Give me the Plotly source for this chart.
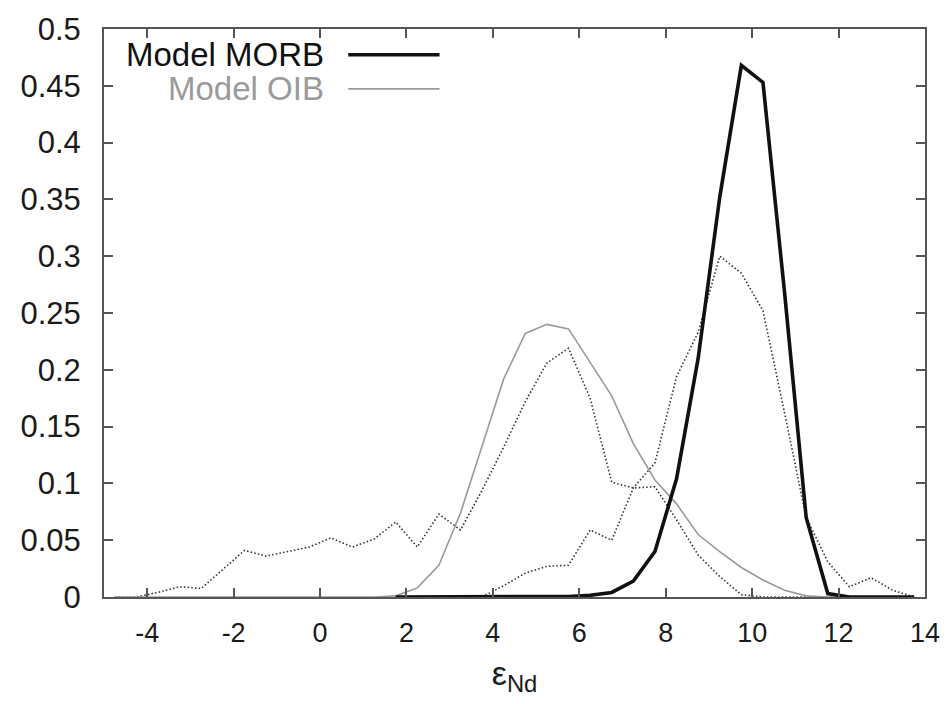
import plotly.graph_objects as go

# bin centres
x_bins = [-4.75 + 0.5 * k for k in range(38)]

# Model MORB (thick black); drawn from 1.75 upward
morb = [None, None, None, None, None, None, None, None, None, None,
        None, None, None, 0, 0, 0, 0, 0, 0, 0,
        0, 0.0005, 0.0015, 0.004, 0.014, 0.040, 0.104, 0.210, 0.352, 0.468,
        0.453, 0.268, 0.070, 0.003, 0, 0, 0, 0]

# Model OIB (grey)
oib = [0, 0, 0, 0, 0, 0, 0, 0, 0, 0,
       0, 0, 0, 0.001, 0.008, 0.028, 0.074, 0.133, 0.192, 0.232,
       0.240, 0.236, 0.207, 0.177, 0.135, 0.103, 0.082, 0.055, 0.040, 0.026,
       0.015, 0.006, 0.001, 0, 0, 0, 0, 0]

# Observed OIB (dotted)
obs_oib = [0, 0, 0.004, 0.009, 0.0075, 0.024, 0.041, 0.036, 0.040, 0.044,
           0.052, 0.044, 0.051, 0.066, 0.044, 0.073, 0.059, 0.094, 0.132, 0.172,
           0.206, 0.219, 0.175, 0.101, 0.096, 0.097, 0.068, 0.037, 0.018, 0.002,
           0, 0, 0, 0, 0, 0, 0, 0]

# Observed MORB (dotted)
obs_morb = [None, None, None, None, None, None, None, None, None, None,
            None, None, None, None, None, None, None, 0, 0.010, 0.021,
            0.027, 0.028, 0.059, 0.050, 0.096, 0.118, 0.194, 0.233, 0.300, 0.285,
            0.252, 0.162, 0.070, 0.031, 0.009, 0.017, 0.006, 0]

x_tickvals = [-4, -2, 0, 2, 4, 6, 8, 10, 12, 14]
x_ticktext = ["-4", "-2", "0", "2", "4", "6", "8", "10", "12", "14"]
y_tickvals = [0, 0.05, 0.1, 0.15, 0.2, 0.25, 0.3, 0.35, 0.4, 0.45, 0.5]
y_ticktext = ["0", "0.05", "0.1", "0.15", "0.2", "0.25", "0.3", "0.35", "0.4", "0.45", "0.5"]

FONT = "Liberation Sans, Arial, Helvetica, sans-serif"
DOT = "#333333"

fig = go.Figure()
fig.add_trace(go.Scatter(x=x_bins, y=obs_oib, mode="lines",
                         line=dict(color=DOT, width=1.6, dash="1.5px,2.2px"),
                         showlegend=False))
fig.add_trace(go.Scatter(x=x_bins, y=obs_morb, mode="lines",
                         line=dict(color=DOT, width=1.6, dash="1.5px,2.2px"),
                         showlegend=False))
fig.add_trace(go.Scatter(x=x_bins, y=oib, mode="lines",
                         line=dict(color="#9a9a9a", width=1.6),
                         showlegend=False))
fig.add_trace(go.Scatter(x=x_bins, y=morb, mode="lines",
                         line=dict(color="#111111", width=3.6),
                         showlegend=False))

axis_common = dict(
    showline=True, linecolor="#555555", linewidth=2, mirror="ticks",
    ticks="inside", ticklen=9, tickwidth=1.5, tickcolor="#555555",
    showgrid=False, zeroline=False,
)

fig.update_xaxes(range=[-5, 14], tickvals=x_tickvals, ticktext=x_ticktext,
                 ticklabelstandoff=11,
                 tickfont=dict(family=FONT, size=27, color="#1a1a1a"),
                 title=dict(text="ε<sub>Nd</sub>", font=dict(family=FONT, size=34, color="#1a1a1a"),
                            standoff=14),
                 **axis_common)
fig.update_yaxes(range=[0, 0.5], tickvals=y_tickvals, ticktext=y_ticktext,
                 ticklabelstandoff=15,
                 tickfont=dict(family=FONT, size=31, color="#1a1a1a"),
                 **axis_common)

# manual legend (gnuplot style: text right-aligned, sample to the right)
legend_items = [("Model MORB", "#111111", 3.6, 0.9547), ("Model OIB", "#9a9a9a", 1.6, 0.8946)]
for label, col, w, yy in legend_items:
    fig.add_annotation(xref="paper", yref="paper", x=0.271, y=yy, text=label,
                       showarrow=False, xanchor="right", yanchor="middle",
                       font=dict(family=FONT, size=33, color=col))
    fig.add_shape(type="line", xref="paper", yref="paper", x0=0.2975, x1=0.4087,
                  y0=yy, y1=yy, line=dict(color=col, width=w))

fig.update_layout(
    width=952, height=704,
    margin=dict(l=104, r=21, t=23, b=107),
    plot_bgcolor="white", paper_bgcolor="white",
    font=dict(family=FONT),
)

fig.write_html("out.html")
